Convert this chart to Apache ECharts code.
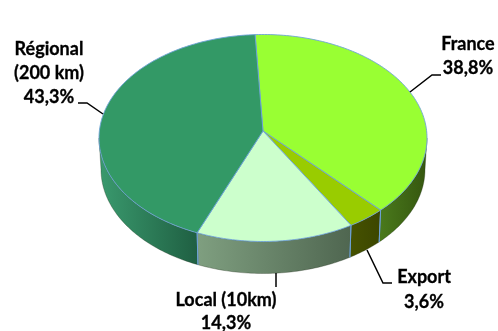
<!DOCTYPE html>
<html><head><meta charset="utf-8">
<style>html,body{margin:0;padding:0;background:#fff}#c{width:498px;height:331px}</style>
<script src="https://cdn.jsdelivr.net/npm/echarts@6/dist/echarts.min.js"></script>
</head><body><div id="c"></div>
<script>
const names = ['France','Export','Local (10km)','Régional (200 km)'];
const values = [38.8,3.6,14.3,43.3];
const labelLines = [['France','38,8%'],['Export','3,6%'],['Local (10km)','14,3%'],['Régional','(200 km)','43,3%']];
const topColors = ['#99ff33','#99cc00','#ccffcc','#339966'];
const wallStops = [['#4a7a1c','#35560f'],['#465200','#3c4600'],['#7f9f80','#4f6650'],['#3a9a6e','#1f5f42']];

const G = {cx:263,cy:138,rx:164,ry:103.5,ax:263,ay:131,depth:31.5,bottomRx:162,start:-2.5,warp:3};
const labelPos = [
  {x:468,y:44,dy:24,line:[[441,75],[432,75],[410,92]]},
  {x:424,y:277,dy:25,line:[[367,250],[383,283],[392,283]]},
  {x:226,y:300,dy:23,line:[[276,273],[276,287]]},
  {x:49,y:49,dy:24,line:[[78,103],[87,103],[103,114]]}
];
const total = values.reduce((a,b)=>a+b,0);
function range(i){
  let s = G.start;
  for(let k=0;k<i;k++) s += values[k]/total*360;
  return [s, s+values[i]/total*360];
}
function rim(t,rx,cy,ry){
  // perspective: the near side of the disc opens up a little
  const w=t+G.warp*Math.sin(2*t*Math.PI/180);
  const r=w*Math.PI/180;
  return [G.cx+rx*Math.sin(r), cy-ry*Math.cos(r)];
}
function arc(a,b,rx,cy,ry){
  const pts=[], n=Math.max(2,Math.ceil(Math.abs(b-a)));
  for(let i=0;i<=n;i++) pts.push(rim(a+(b-a)*i/n,rx,cy,ry));
  return pts;
}
const seriesData = values.map((v,i)=>({name:names[i],value:v}));
const edge = {stroke:'#6ea3d8',lineWidth:0.9};

const option = {
  animation:false,
  backgroundColor:'#ffffff',
  xAxis:{show:false},yAxis:{show:false},
  series:[
    {type:'custom',coordinateSystem:'none',z:1,silent:true,data:seriesData,
     renderItem(p,api){
      const i=p.dataIndex; let [a,b]=range(i);
      a=Math.max(a,90); b=Math.min(b,270);
      if(b<=a) return {type:'group',children:[]};
      const top=arc(a,b,G.rx,G.cy,G.ry);
      const bottom=arc(b,a,G.bottomRx,G.cy+G.depth,G.ry+0.5);
      const pts=top.concat(bottom);
      const xs=pts.map(q=>q[0]), x0=Math.min(...xs), x1=Math.max(...xs);
      const c=wallStops[i];
      return {type:'polygon',shape:{points:pts},
        style:{fill:new echarts.graphic.LinearGradient(x0,0,x1,0,[{offset:0,color:c[0]},{offset:1,color:c[1]}],true),
               stroke:'#1c2a14',lineWidth:0.3}};
     }},
    {type:'custom',coordinateSystem:'none',z:2,silent:true,data:seriesData,
     renderItem(p,api){
      const i=p.dataIndex; const [a,b]=range(i);
      const children=[{type:'polygon',shape:{points:[[G.ax,G.ay]].concat(arc(a,b,G.rx,G.cy,G.ry))},
        style:Object.assign({fill:topColors[i]},edge)}];
      for(const t of [a,b]){
        const m=((t%360)+360)%360;
        if(m>90&&m<270){
          const q=rim(t,G.rx,G.cy,G.ry), q2=rim(t,G.bottomRx,G.cy+G.depth,G.ry+0.5);
          children.push({type:'line',shape:{x1:q[0],y1:q[1],x2:q2[0],y2:q2[1]},style:edge});
        }
      }
      return {type:'group',children};
     }},
    {type:'custom',coordinateSystem:'none',z:3,silent:true,data:seriesData,
     renderItem(p,api){
      const i=p.dataIndex, L=labelPos[i];
      const children=[{type:'polyline',shape:{points:L.line},style:{fill:'none',stroke:'#000',lineWidth:1.5}}];
      labelLines[i].forEach((s,k)=>children.push({type:'text',
        style:{text:s,x:L.x,y:L.y+k*L.dy,align:'center',verticalAlign:'middle',
               fill:'#000',font:'bold 18px Lato, sans-serif',stroke:'#000',lineWidth:0.3}}));
      return {type:'group',children};
     }}
  ]
};
echarts.init(document.getElementById('c'),null,{renderer:'canvas'}).setOption(option);
</script></body></html>
